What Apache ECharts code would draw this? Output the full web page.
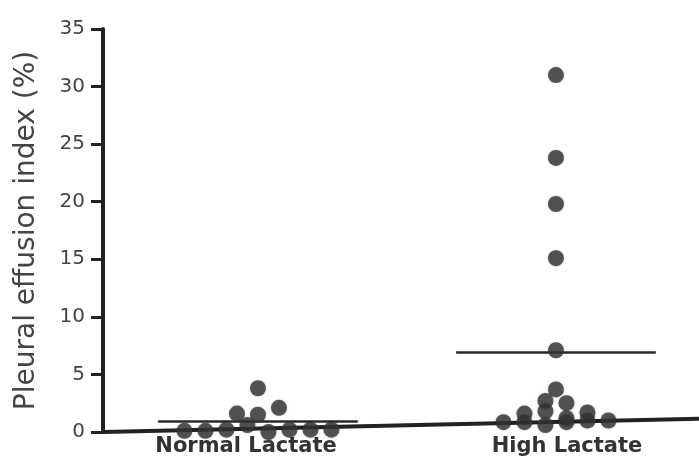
<!DOCTYPE html>
<html>
<head>
<meta charset="utf-8">
<script src="https://cdn.jsdelivr.net/npm/echarts@6/dist/echarts.min.js"></script>
<style>
  html, body { margin: 0; padding: 0; background: #ffffff; }
  #chart { width: 699px; height: 473px; }
</style>
</head>
<body>
<div id="chart"></div>
<script>
// Group names on the x axis
const categories = ['Normal Lactate', 'High Lactate'];

// Pleural effusion index (%) of each patient, per lactate group
const normalLactate = [0.1, 0.1, 0.2, 0.6, 0.0, 0.2, 0.2, 0.2, 1.6, 1.5, 2.1, 3.8];
const highLactate = [0.85, 0.85, 0.6, 0.85, 1.0, 1.0, 1.6, 1.8, 1.2, 1.7, 2.7, 2.5, 3.7, 7.1, 15.1, 19.8, 23.8, 31.0];

// Group means shown as horizontal bars
const groupMeans = [0.9, 6.9];

// Y axis tick values
const yTicks = [0, 5, 10, 15, 20, 25, 30, 35];

// Baseline of the plot (value at its left and right ends)
const baselineEnds = [0, 1.15];

// ---- layout ----
const GRID = { left: 103, right: 0, top: 29, bottom: 41 };
const X_MIN = -0.52, X_MAX = 1.48;
const PLOT_W = 699 - GRID.left - GRID.right;
const ROW_SPAN = 1.2;                              // values gathered into one row of dots
const DOT_STEP = 21 * (X_MAX - X_MIN) / PLOT_W;    // 21 px between neighbouring dots
const MEAN_HALF = 0.335;                           // half width of a mean bar
const LABEL_AT = [-0.04, 1.037];                   // where the group names sit

// Simple row-based swarm: dots with similar values are spread side by side
function swarm(values, centre) {
  const rows = new Map();
  values.forEach(v => {
    const r = Math.floor(v / ROW_SPAN);
    if (!rows.has(r)) rows.set(r, []);
    rows.get(r).push(v);
  });
  const pts = [];
  rows.forEach(row => {
    row.forEach((v, i) => pts.push([centre + (i - (row.length - 1) / 2) * DOT_STEP, v]));
  });
  return pts;
}

const groups = [normalLactate, highLactate];
const dotColor = '#363636';
const inkColor = '#222222';

const series = groups.map((vals, gi) => {
  const lines = [[
    { coord: [gi - MEAN_HALF, groupMeans[gi]] },
    { coord: [gi + MEAN_HALF, groupMeans[gi]] }
  ]];
  if (gi === 0) {
    // baseline across the whole plot width
    lines.push([
      { coord: [X_MIN, baselineEnds[0]], lineStyle: { color: inkColor, width: 4 } },
      { coord: [X_MAX, baselineEnds[1]] }
    ]);
  }
  return {
    type: 'scatter',
    name: categories[gi],
    data: swarm(vals, gi),
    symbolSize: 16,
    z: 5,
    itemStyle: { color: dotColor, shadowBlur: 2, shadowColor: 'rgba(0,0,0,0.35)' },
    markLine: {
      silent: true,
      symbol: 'none',
      label: { show: false },
      z: 3,
      lineStyle: { color: '#2a2a2a', width: 2.5, type: 'solid' },
      data: lines
    }
  };
});

const chart = echarts.init(document.getElementById('chart'), null, { renderer: 'canvas' });
chart.setOption({
  animation: false,
  backgroundColor: '#ffffff',
  grid: { left: GRID.left, right: GRID.right, top: GRID.top, bottom: GRID.bottom, containLabel: false, outerBoundsMode: 'none' },
  xAxis: {
    type: 'value',
    min: X_MIN,
    max: X_MAX,
    axisLine: { show: false },
    axisTick: { show: false },
    splitLine: { show: false },
    axisLabel: {
      customValues: LABEL_AT,
      formatter: v => categories[Math.round(v)],
      margin: 4,
      color: '#333333',
      fontFamily: 'DejaVu Sans',
      fontWeight: 'bold',
      fontSize: 21
    }
  },
  yAxis: {
    type: 'value',
    min: yTicks[0],
    max: yTicks[yTicks.length - 1],
    interval: yTicks[1] - yTicks[0],
    name: 'Pleural effusion index (%)',
    nameLocation: 'middle',
    nameGap: 62,
    nameTextStyle: { fontFamily: 'DejaVu Sans', fontSize: 28, color: '#444444' },
    axisLine: { show: true, onZero: false, lineStyle: { color: inkColor, width: 4 } },
    axisTick: { show: true, length: 12, lineStyle: { color: inkColor, width: 3 } },
    axisLabel: { margin: 18, fontFamily: 'DejaVu Sans', fontSize: 20, color: '#444444' },
    splitLine: { show: false }
  },
  series: series
});
</script>
</body>
</html>
